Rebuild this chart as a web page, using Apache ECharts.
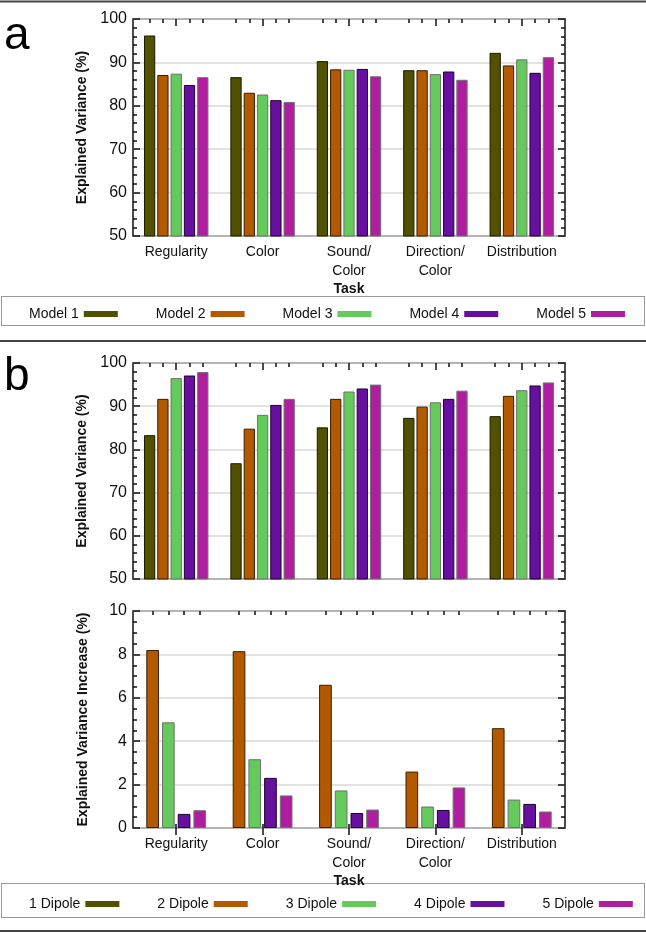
<!DOCTYPE html>
<html>
<head>
    <meta charset="utf-8">
    <title></title>
    <script src="https://cdn.jsdelivr.net/npm/echarts@6/dist/echarts.min.js"></script>
    <style type="text/css">
        html, body {
            margin: 0;
            padding: 0;
            width: 100%;
            height: 100%;
            background: #fff;
        }
    </style>
</head>
<body>
    <div id="chart" style="width: 646px; height: 933px;"></div>
    <script type="text/javascript">
        var tasks = ['Regularity', 'Color', 'Sound/\nColor', 'Direction/\nColor', 'Distribution'];

        var modelNames = ['Model 1', 'Model 2', 'Model 3', 'Model 4', 'Model 5'];
        var model1 = [96.2, 86.6, 90.3, 88.2, 92.2];
        var model2 = [87.1, 83.0, 88.4, 88.2, 89.3];
        var model3 = [87.4, 82.6, 88.3, 87.3, 90.7];
        var model4 = [84.8, 81.3, 88.5, 87.9, 87.6];
        var model5 = [86.6, 80.9, 86.8, 86.0, 91.2];

        var dipoleNames = ['1 Dipole', '2 Dipole', '3 Dipole', '4 Dipole', '5 Dipole'];
        var dipole1 = [83.3, 76.8, 85.1, 87.3, 87.7];
        var dipole2 = [91.7, 84.8, 91.7, 89.9, 92.4];
        var dipole3 = [96.5, 88.0, 93.4, 90.9, 93.7];
        var dipole4 = [97.1, 90.3, 94.1, 91.7, 94.8];
        var dipole5 = [97.9, 91.7, 95.0, 93.6, 95.5];

        // increase over the previous number of dipoles (1 Dipole has none)
        var inc2 = [8.2, 8.15, 6.6, 2.6, 4.6];
        var inc3 = [4.87, 3.17, 1.73, 0.99, 1.31];
        var inc4 = [0.65, 2.31, 0.69, 0.83, 1.11];
        var inc5 = [0.82, 1.5, 0.85, 1.87, 0.76];

        var colors = ['#525100', '#b35a00', '#64ca5c', '#670f9f', '#b01ea0'];
        var borders = ['#1a1a00', '#3a1d00', '#707070', '#1e0030', '#707070'];

        var font = "'Liberation Sans', Arial, sans-serif";
        var myChart = echarts.init(document.getElementById('chart'));

        var grids = [
            { left: 133, width: 432, top: 19, height: 217, show: true, borderColor: '#111', borderWidth: 1.5 },
            { left: 133, width: 432, top: 363, height: 216, show: true, borderColor: '#111', borderWidth: 1.5 },
            { left: 133, width: 432, top: 611, height: 217, show: true, borderColor: '#111', borderWidth: 1.5 }
        ];

        function slots(n) {
            var s = [];
            for (var i = 0; i < n; i++) s.push('');
            return s;
        }

        var xAxes = [];
        var yAxes = [];
        [0, 1, 2].forEach(function (g) {
            var per = g === 2 ? 11 : 13;
            var minor = g === 2 ? [2, 4, 6, 8] : [2, 4, 8, 10];
            xAxes.push({
                type: 'category', gridIndex: g, data: tasks, position: 'bottom',
                name: g === 1 ? '' : 'Task', nameLocation: 'middle', nameGap: 45,
                nameTextStyle: { fontFamily: font, fontSize: 14, fontWeight: 'bold', color: '#111' },
                axisLine: { show: false },
                axisTick: { show: true, inside: true, length: 4, alignWithLabel: true, lineStyle: { color: '#111', width: 1.5 } },
                axisLabel: { show: g !== 1, fontFamily: font, fontSize: 14, color: '#111', margin: 7, lineHeight: 19, interval: 0 }
            });
            xAxes.push({
                type: 'category', gridIndex: g, data: tasks, position: 'top',
                axisLine: { show: false },
                axisTick: { show: true, inside: true, length: 7, alignWithLabel: true, lineStyle: { color: '#111', width: 1.5 } },
                axisLabel: { show: false }
            });
            xAxes.push({
                type: 'category', gridIndex: g, data: slots(per * 5), position: 'top',
                axisLine: { show: false },
                axisTick: {
                    show: true, inside: true, length: 4, alignWithLabel: true,
                    interval: function (i) { return minor.indexOf(i % per) >= 0; },
                    lineStyle: { color: '#111', width: 1.5 }
                },
                axisLabel: { show: false }
            });
            var lim = g === 2 ? { min: 0, max: 10, interval: 2, split: 4 } : { min: 50, max: 100, interval: 10, split: 5 };
            yAxes.push({
                type: 'value', gridIndex: g, position: 'left', min: lim.min, max: lim.max, interval: lim.interval,
                name: g === 2 ? 'Explained Variance Increase (%)' : 'Explained Variance (%)',
                nameLocation: 'middle', nameGap: 43, nameRotate: 90,
                nameTextStyle: { fontFamily: font, fontSize: 14, fontWeight: 'bold', color: '#111' },
                axisLine: { show: false },
                axisTick: { show: true, inside: true, length: 7, lineStyle: { color: '#111', width: 1.5 } },
                minorTick: { show: true, splitNumber: lim.split, length: 4, lineStyle: { color: '#111', width: 1.5 } },
                axisLabel: { fontFamily: font, fontSize: 16, color: '#111', margin: 6 },
                splitLine: { show: true, lineStyle: { color: '#d8d8d8', width: 1.5 } }
            });
            yAxes.push({
                type: 'value', gridIndex: g, position: 'right', min: lim.min, max: lim.max, interval: lim.interval,
                axisLine: { show: false },
                axisTick: { show: true, inside: true, length: 7, lineStyle: { color: '#111', width: 1.5 } },
                minorTick: { show: true, splitNumber: lim.split, length: 4, lineStyle: { color: '#111', width: 1.5 } },
                axisLabel: { show: false },
                splitLine: { show: false }
            });
        });

        function bar(name, data, ci, g) {
            var nb = g === 2 ? 4 : 5;
            return {
                type: 'bar', name: name, data: data,
                xAxisIndex: g * 3, yAxisIndex: g * 2,
                barGap: nb === 5 ? '18%' : '24%',
                barCategoryGap: nb === 5 ? '25.4%' : '30.8%',
                itemStyle: { color: colors[ci], borderColor: borders[ci], borderWidth: 1 },
                animation: false
            };
        }

        var series = [
            bar(modelNames[0], model1, 0, 0),
            bar(modelNames[1], model2, 1, 0),
            bar(modelNames[2], model3, 2, 0),
            bar(modelNames[3], model4, 3, 0),
            bar(modelNames[4], model5, 4, 0),
            bar(dipoleNames[0], dipole1, 0, 1),
            bar(dipoleNames[1], dipole2, 1, 1),
            bar(dipoleNames[2], dipole3, 2, 1),
            bar(dipoleNames[3], dipole4, 3, 1),
            bar(dipoleNames[4], dipole5, 4, 1),
            bar(dipoleNames[1], inc2, 1, 2),
            bar(dipoleNames[2], inc3, 2, 2),
            bar(dipoleNames[3], inc4, 3, 2),
            bar(dipoleNames[4], inc5, 4, 2)
        ];

        function legend(names, top) {
            return {
                data: names, top: top, left: 24, align: 'right', itemGap: 38,
                icon: 'rect', itemWidth: 34, itemHeight: 6, selectedMode: false,
                itemStyle: { borderWidth: 0 },
                textStyle: { fontFamily: font, fontSize: 14, color: '#111', padding: [0, 0, 0, 0] }
            };
        }

        var option = {
            backgroundColor: '#fff',
            animation: false,
            grid: grids,
            xAxis: xAxes,
            yAxis: yAxes,
            legend: [legend(modelNames, 302), legend(dipoleNames, 892)],
            series: series,
            graphic: [
                { type: 'line', shape: { x1: 0, y1: 1.5, x2: 646, y2: 1.5 }, style: { stroke: '#444', lineWidth: 2 } },
                { type: 'line', shape: { x1: 0, y1: 341, x2: 646, y2: 341 }, style: { stroke: '#444', lineWidth: 2 } },
                { type: 'line', shape: { x1: 0, y1: 931, x2: 646, y2: 931 }, style: { stroke: '#444', lineWidth: 2 } },
                { type: 'rect', shape: { x: 1.5, y: 296.5, width: 643, height: 29 }, style: { fill: 'none', stroke: '#333', lineWidth: 1, lineDash: [1, 1] } },
                { type: 'rect', shape: { x: 1.5, y: 883.5, width: 643, height: 34 }, style: { fill: 'none', stroke: '#333', lineWidth: 1, lineDash: [1, 1] } },
                { type: 'text', left: 4, top: 13, style: { text: 'a', fontFamily: font, fontSize: 46, fill: '#000' } },
                { type: 'text', left: 4, top: 354, style: { text: 'b', fontFamily: font, fontSize: 46, fill: '#000' } }
            ]
        };
        myChart.setOption(option);
    </script>
</body>
</html>
